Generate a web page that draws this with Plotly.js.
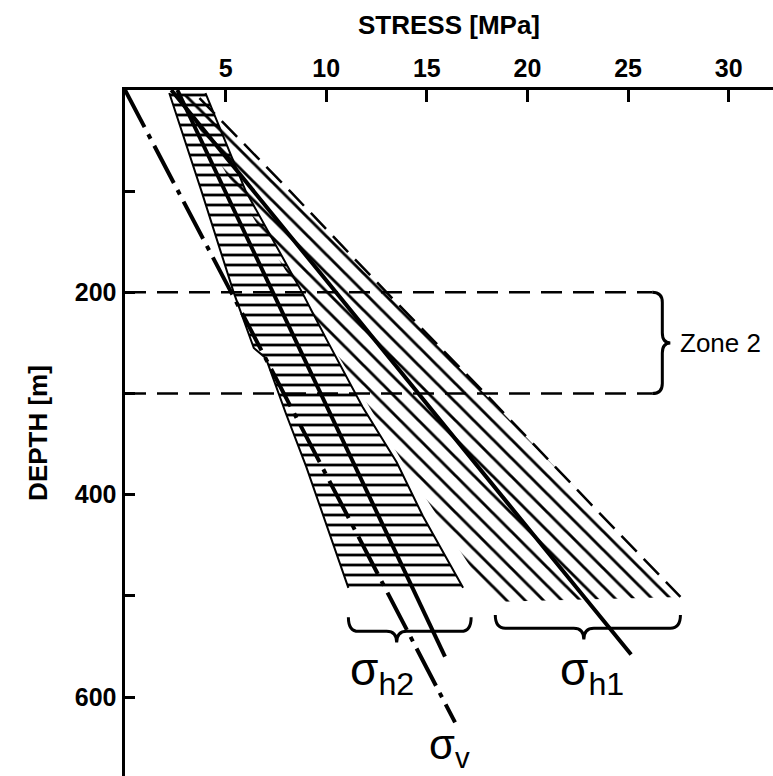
<!DOCTYPE html>
<html>
<head>
<meta charset="utf-8">
<script src="https://cdn.plot.ly/plotly-3.0.1.min.js"></script>
<style>html,body{margin:0;padding:0;background:#fff;}#chart{width:773px;height:776px;}</style>
</head>
<body>
<div id="chart"></div>
<script>
// ---- values (stress in MPa, depth in m) ----
const stressTicks = [5, 10, 15, 20, 25, 30];
const depthTicks = [200, 400, 600];
const depthTickLabels = ['200', '400', '600'];
const depthMinorStep = 100;

// sigma_v (dash-dot)
const svDepth = [0, 197, 625];
const svStress = [0, 5.2, 16.4];

// sigma_h2 mean line
const sh2Depth = [0, 244, 560];
const sh2Stress = [2.6, 8.4, 15.9];

// sigma_h1 mean line
const sh1Depth = [0, 263, 447, 558];
const sh1Stress = [2.3, 13.1, 20.6, 25.15];

// sigma_h2 range band (horizontal hatching)
const h2LeftDepth = [3, 100, 200, 255, 265, 320, 372, 430, 492];
const h2LeftStress = [2.2, 3.8, 5.4, 6.4, 7.0, 8.0, 9.0, 10.0, 11.1];
const h2RightDepth = [3, 100, 200, 246, 313, 368, 421, 492];
const h2RightStress = [4.0, 6.0, 8.8, 10.0, 11.8, 13.5, 14.8, 16.8];

// sigma_h1 range band (diagonal hatching)
const h1LeftDepth = [3, 150, 279, 329, 368, 405, 506];
const h1LeftStress = [2.6, 7.1, 11.1, 12.6, 13.8, 15.0, 18.3];
const h1RightDepth = [8, 100, 200, 300, 400, 501];
const h1RightStress = [3.7, 8.2, 13.0, 17.9, 22.7, 27.6];

// Zone 2 limits
const zoneDepths = [200, 300];
const zoneStressEnd = [0, 26.2];

// braces: [start, end, tip] along the axis they span
const braceH2 = [11.1, 17.2, 13.5];
const braceH1 = [18.4, 27.6, 22.8];
const braceZone = [200, 300, 250];

// ---- helpers ----
function band(lx, ly, rx, ry) {
  return {
    x: lx.concat(rx.slice().reverse(), [lx[0]]),
    y: ly.concat(ry.slice().reverse(), [ly[0]])
  };
}
const h2Poly = band(h2LeftStress, h2LeftDepth, h2RightStress, h2RightDepth);
const h1Poly = band(h1LeftStress, h1LeftDepth, h1RightStress, h1RightDepth);

const traces = [
  { x: h1Poly.x, y: h1Poly.y, type: 'scatter', mode: 'lines', fill: 'toself',
    fillcolor: 'rgba(0,0,0,0)', line: { width: 0 },
    fillpattern: { shape: '\\', fgcolor: '#000', bgcolor: 'rgba(0,0,0,0)', size: 13, solidity: 0.22, fgopacity: 1 },
    hoverinfo: 'skip' },
  { x: h2Poly.x, y: h2Poly.y, type: 'scatter', mode: 'lines', fill: 'toself',
    fillcolor: 'rgba(0,0,0,0)', line: { width: 0 },
    fillpattern: { shape: '-', fgcolor: '#000', bgcolor: 'rgba(0,0,0,0)', size: 10, solidity: 0.28, fgopacity: 1 },
    hoverinfo: 'skip' },
  { x: h2LeftStress, y: h2LeftDepth, type: 'scatter', mode: 'lines', line: { color: '#000', width: 2 } },
  { x: h2RightStress, y: h2RightDepth, type: 'scatter', mode: 'lines', line: { color: '#000', width: 2 } },
  { x: h1RightStress, y: h1RightDepth, type: 'scatter', mode: 'lines', line: { color: '#000', width: 2.5, dash: '22px,10px' } },
  { x: sh2Stress, y: sh2Depth, type: 'scatter', mode: 'lines', line: { color: '#000', width: 4 } },
  { x: sh1Stress, y: sh1Depth, type: 'scatter', mode: 'lines', line: { color: '#000', width: 4 } },
  { x: svStress, y: svDepth, type: 'scatter', mode: 'lines', line: { color: '#000', width: 4, dash: '42px,8px,5px,8px' } }
];
zoneDepths.forEach(function (d) {
  traces.push({ x: zoneStressEnd, y: [d, d], type: 'scatter', mode: 'lines',
    line: { color: '#000', width: 2.5, dash: '21px,11px' } });
});

function hBrace(b, yTop, yMid, yTip, dx) {
  const x0 = b[0], x1 = b[1], xt = b[2];
  return 'M' + x0 + ',' + yTop + ' Q' + x0 + ',' + yMid + ' ' + (x0 + dx) + ',' + yMid +
    ' L' + (xt - dx) + ',' + yMid + ' Q' + xt + ',' + yMid + ' ' + xt + ',' + yTip +
    ' Q' + xt + ',' + yMid + ' ' + (xt + dx) + ',' + yMid +
    ' L' + (x1 - dx) + ',' + yMid + ' Q' + x1 + ',' + yMid + ' ' + x1 + ',' + yTop;
}
function vBrace(b, xEnd, xMid, xTip, dy) {
  const y0 = b[0], y1 = b[1], yt = b[2];
  return 'M' + xEnd + ',' + y0 + ' Q' + xMid + ',' + y0 + ' ' + xMid + ',' + (y0 + dy) +
    ' L' + xMid + ',' + (yt - dy) + ' Q' + xMid + ',' + yt + ' ' + xTip + ',' + yt +
    ' Q' + xMid + ',' + yt + ' ' + xMid + ',' + (yt + dy) +
    ' L' + xMid + ',' + (y1 - dy) + ' Q' + xMid + ',' + y1 + ' ' + xEnd + ',' + y1;
}
const braceLine = { color: '#000', width: 3 };
const shapes = [
  { type: 'path', xref: 'x', yref: 'y', path: hBrace(braceH2, 521, 535, 546, 0.5), line: braceLine },
  { type: 'path', xref: 'x', yref: 'y', path: hBrace(braceH1, 519, 532, 543, 0.5), line: braceLine },
  { type: 'path', xref: 'x', yref: 'y', path: vBrace(braceZone, 26.2, 26.7, 27.1, 10), line: braceLine }
];

const labelFont = { family: 'Liberation Sans, Arial, sans-serif', size: 46, color: '#000' };
const annotations = [
  { x: 11.1, y: 576, xref: 'x', yref: 'y', text: 'σ<sub>h2</sub>', showarrow: false, xanchor: 'left', yanchor: 'middle', font: labelFont },
  { x: 21.5, y: 576, xref: 'x', yref: 'y', text: 'σ<sub>h1</sub>', showarrow: false, xanchor: 'left', yanchor: 'middle', font: labelFont },
  { x: 15.0, y: 650, xref: 'x', yref: 'y', text: 'σ<sub>v</sub>', showarrow: false, xanchor: 'left', yanchor: 'middle',
    font: { family: 'Liberation Sans, Arial, sans-serif', size: 42, color: '#000' } },
  { x: 27.5, y: 250, xref: 'x', yref: 'y', text: 'Zone 2', showarrow: false, xanchor: 'left', yanchor: 'middle',
    font: { family: 'Liberation Sans, Arial, sans-serif', size: 26, color: '#000' } }
];

const tickFont = { family: 'Liberation Sans, Arial, sans-serif', size: 25, color: '#000', weight: 700 };
const titleFont = { family: 'Liberation Sans, Arial, sans-serif', size: 26, color: '#000', weight: 700 };

const layout = {
  width: 773, height: 776,
  margin: { l: 125, r: 0, t: 90, b: 0, pad: 0 },
  paper_bgcolor: '#fff', plot_bgcolor: '#fff',
  showlegend: false,
  xaxis: {
    side: 'top', range: [0, 32.2], showgrid: false, zeroline: false,
    showline: true, linecolor: '#000', linewidth: 3.5,
    ticks: 'inside', ticklen: 12, tickwidth: 3, tickcolor: '#000',
    tickmode: 'array', tickvals: stressTicks, ticktext: stressTicks.map(String),
    tickfont: tickFont,
    title: { text: 'STRESS [MPa]', font: titleFont, standoff: 12 }
  },
  yaxis: {
    range: [678, 0], showgrid: false, zeroline: false,
    showline: true, linecolor: '#000', linewidth: 3.5,
    ticks: 'inside', ticklen: 10, tickwidth: 3, tickcolor: '#000',
    tickmode: 'array', tickvals: depthTicks, ticktext: depthTickLabels,
    minor: { dtick: depthMinorStep, tick0: 0, ticks: 'inside', ticklen: 10, tickwidth: 3, tickcolor: '#000', showgrid: false },
    tickfont: tickFont,
    title: { text: 'DEPTH [m]', font: titleFont, standoff: 20 }
  },
  shapes: shapes,
  annotations: annotations
};

Plotly.newPlot('chart', traces, layout, { staticPlot: true, displayModeBar: false });
</script>
</body>
</html>
